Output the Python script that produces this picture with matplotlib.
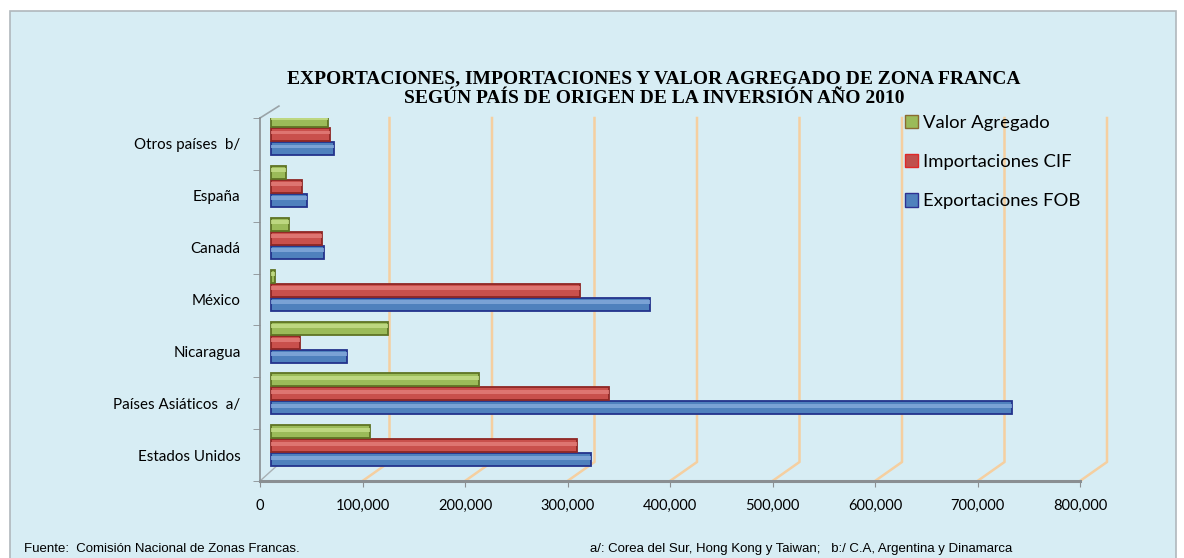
import numpy as np
import matplotlib.pyplot as plt
from matplotlib.patches import Rectangle, Patch
from matplotlib.transforms import ScaledTranslation

# Datos (miles de US$), de abajo hacia arriba
paises = ["Estados Unidos", "Países Asiáticos  a/", "Nicaragua", "México",
          "Canadá", "España", "Otros países  b/"]
exportaciones = [312000, 723000, 74000, 370000, 52000, 35000, 61000]
importaciones = [299000, 330000, 28000, 301000, 50000, 30000, 58000]
valor_agregado = [97000, 203000, 114000, 4000, 18000, 15000, 56000]
ticks_x = [0, 100000, 200000, 300000, 400000, 500000, 600000, 700000, 800000]

titulo1 = "EXPORTACIONES, IMPORTACIONES Y VALOR AGREGADO DE ZONA FRANCA"
titulo2 = "SEGÚN PAÍS DE ORIGEN DE LA INVERSIÓN AÑO 2010"

fondo = "#d7edf4"
W, H = 1184, 558

fig = plt.figure(figsize=(W / 100, H / 100), dpi=100)
fig.patch.set_facecolor("white")
fig.patches.append(Rectangle((10 / W, -0.01), (W - 18) / W, (H - 11) / H + 0.01,
                             transform=fig.transFigure, facecolor=fondo,
                             edgecolor="#b0b8bc", linewidth=1.2, zorder=-10))

ax = fig.add_axes([260 / W, (H - 481) / H, (1080 - 260) / W, (481 - 118) / H])
ax.set_facecolor("none")
ax.set_xlim(0, 800000)
ax.set_ylim(-0.5, 6.5)

y = np.arange(len(paises))
h = 0.25
desp = ax.transData + ScaledTranslation(11 / 100, 0, fig.dpi_scale_trans)

series = [
    (exportaciones, -0.09, "#4f81bd", "#23338c", "#86abdc"),
    (importaciones, 0.18, "#c9504c", "#8e2624", "#e47f7b"),
    (valor_agregado, 0.45, "#9bbb59", "#5f7424", "#c6df8a"),
]
for vals, off, col, borde, luz in series:
    ax.barh(y + off, vals, height=h, color=col, edgecolor=borde, linewidth=1.3,
            transform=desp, zorder=3)
    ax.barh(y + off + 0.04, vals, height=h * 0.3, color=luz, linewidth=0,
            transform=desp, zorder=4, alpha=0.8)

# rejilla "3D": pared del fondo + piso
dx = 27 / (820 / 800000)
dy = 19 / (363 / 7)
for t in ticks_x[1:]:
    ax.plot([t + dx, t + dx, t], [6.5, -0.5 + dy, -0.5], color="#f5cfa0",
            linewidth=1.8, zorder=1, clip_on=False)
ax.plot([0, dx * 0.7], [-0.5, -0.5 + dy * 0.9], color="#a8b0b4",
        linewidth=1.0, zorder=1)
ax.plot([0, dx * 0.7], [6.5, 6.5 + 0.23], color="#9aa4a8",
        linewidth=1.2, zorder=1, clip_on=False)

ax.set_xticks(ticks_x)
ax.set_xticklabels([f"{t:,}" for t in ticks_x], fontsize=10.5, family="Lato")
ax.set_yticks(y)
ax.set_yticklabels(paises, fontsize=10.9, family="Lato")
ax.set_yticks(np.arange(-0.5, 7, 1), minor=True)
ax.tick_params(axis="x", length=4, color="#8a8f92", pad=9)
ax.tick_params(axis="y", which="major", length=0, pad=14)
ax.tick_params(axis="y", which="minor", length=5, color="#8a8f92")
for s in ["top", "right"]:
    ax.spines[s].set_visible(False)
ax.spines["bottom"].set_color("#8a8f92")
ax.spines["bottom"].set_linewidth(2.2)
ax.spines["left"].set_color("#8a8f92")
ax.spines["left"].set_linewidth(1.2)

handles = [Patch(facecolor="#9bbb59", edgecolor="#8a6a30", label="Valor Agregado"),
           Patch(facecolor="#c0504d", edgecolor="#e02828", label="Importaciones CIF"),
           Patch(facecolor="#4f81bd", edgecolor="#2e3192", label="Exportaciones FOB")]
fig.legend(handles=handles, loc="upper left", bbox_to_anchor=(888 / W, (H - 98) / H),
           frameon=False, prop={"family": "Lato", "size": 13.3}, handlelength=0.75,
           handleheight=0.75, handletextpad=0.25, labelspacing=1.25)

fig.text(654 / W, (H - 83) / H, titulo1, ha="center", va="baseline",
         family="Liberation Serif", weight="bold", fontsize=14)
fig.text(654 / W, (H - 103) / H, titulo2, ha="center", va="baseline",
         family="Liberation Serif", weight="bold", fontsize=14)

fig.text(24 / W, (H - 549) / H, "Fuente:  Comisión Nacional de Zonas Francas.",
         family="Liberation Sans", fontsize=9.5, va="center")
fig.text(590 / W, (H - 549) / H,
         "a/: Corea del Sur, Hong Kong y Taiwan;   b:/ C.A, Argentina y Dinamarca",
         family="Liberation Sans", fontsize=9.5, va="center")

fig.savefig("out.png", dpi=100, facecolor=fig.get_facecolor())
